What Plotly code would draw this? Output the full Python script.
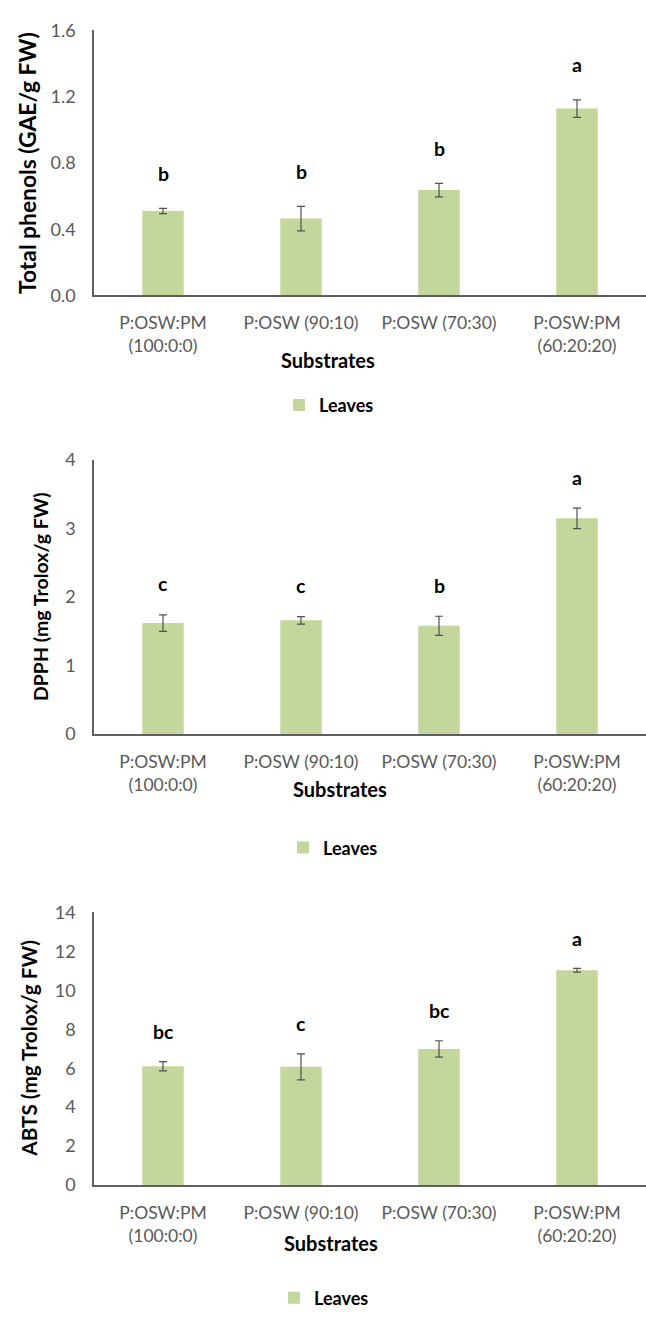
import plotly.graph_objects as go

# ---------------- data ----------------
categories = ["P:OSW:PM<br>(100:0:0)", "P:OSW (90:10)", "P:OSW (70:30)", "P:OSW:PM<br>(60:20:20)"]

phenols = [0.51, 0.464, 0.636, 1.128]
phenols_err = [0.016, 0.074, 0.041, 0.053]
phenols_letters = ["b", "b", "b", "a"]

dpph = [1.62, 1.66, 1.58, 3.15]
dpph_err = [0.12, 0.055, 0.14, 0.15]
dpph_letters = ["c", "c", "b", "a"]

abts = [6.10, 6.07, 6.99, 11.03]
abts_err = [0.24, 0.67, 0.42, 0.10]
abts_letters = ["bc", "c", "bc", "a"]

y_titles = ["Total phenols (GAE/g FW)", "DPPH (mg Trolox/g FW)", "ABTS (mg Trolox/g FW)"]
x_title = "Substrates"
series_name = "Leaves"

# ---------------- style / layout ----------------
W, H = 646, 1317
FONT = "Lato"
BAR_COLOR = "#C3D69B"
AXIS_COLOR = "#5f5f5f"
TICK_COLOR = "#595959"

# pixel geometry of each panel: (top px, bottom px)
panels = [(18.7, 288.3), (455.7, 734.3), (915.7, 1193.0)]
x_left_px = 94
ranges = [(0, 1.6, 0.4, ".1f"), (0, 4, 1, "d"), (0, 14, 2, "d")]
ytitle_x_px = [27, 40, 29]
ytitle_size = [22.8, 19.5, 20.7]
letter_shift = [35, 31, 30]
xtitle_px = [(328, 354), (340, 790), (331, 1252)]
legend_px = [(279, 400), (283, 850), (274, 1308)]

datasets = [
    (phenols, phenols_err, phenols_letters),
    (dpph, dpph_err, dpph_letters),
    (abts, abts_err, abts_letters),
]

fig = go.Figure()
annotations = []
layout_axes = {}

for i, ((vals, errs, letters), (top, bot), rng) in enumerate(zip(datasets, panels, ranges)):
    n = "" if i == 0 else str(i + 1)
    xa, ya = "x" + n, "y" + n
    leg = "legend" + n
    fig.add_trace(go.Bar(
        x=categories, y=vals, name=series_name,
        xaxis=xa, yaxis=ya, legend=leg,
        width=0.3,
        marker=dict(color=BAR_COLOR, line=dict(width=0)),
        error_y=dict(type="data", array=errs, visible=True,
                     color="#505050", thickness=1.2, width=4),
        showlegend=True,
    ))
    ydom = [1 - bot / H, 1 - top / H]
    layout_axes["xaxis" + n] = dict(
        domain=[x_left_px / W, 1.0], anchor=ya,
        type="category", range=[-0.5, 3.5],
        showline=True, linecolor=AXIS_COLOR, linewidth=1.5,
        showgrid=False, zeroline=False, ticks="",
        ticklabelstandoff=11,
        tickfont=dict(family=FONT, size=17.5, color=TICK_COLOR),
        fixedrange=True,
    )
    layout_axes["yaxis" + n] = dict(
        domain=ydom, anchor=xa,
        range=[rng[0], rng[1]], dtick=rng[2], tick0=0, tickformat=rng[3],
        showline=True, linecolor=AXIS_COLOR, linewidth=1.5,
        showgrid=False, zeroline=False, ticks="",
        ticklabelstandoff=13,
        tickfont=dict(family=FONT, size=18, color=TICK_COLOR),
        fixedrange=True,
    )
    # significance letters
    for c, v, e, t in zip(categories, vals, errs, letters):
        annotations.append(dict(
            x=c, y=v + e, xref=xa, yref=ya, text="<b>%s</b>" % t,
            showarrow=False, yanchor="middle", yshift=letter_shift[i],
            font=dict(family=FONT, size=19.5, color="#000000"),
        ))
    # y axis title
    annotations.append(dict(
        x=ytitle_x_px[i] / W, y=(ydom[0] + ydom[1]) / 2, xref="paper", yref="paper",
        text="<b>%s</b>" % y_titles[i], textangle=-90, showarrow=False,
        xanchor="center", yanchor="middle",
        font=dict(family=FONT, size=ytitle_size[i], color="#000000"),
    ))
    # x axis title
    annotations.append(dict(
        x=xtitle_px[i][0] / W, y=1 - xtitle_px[i][1] / H, xref="paper", yref="paper",
        text="<b>%s</b>" % x_title, showarrow=False,
        xanchor="center", yanchor="middle",
        font=dict(family=FONT, size=20, color="#000000"),
    ))
    layout_axes[leg] = dict(
        x=legend_px[i][0] / W, y=1 - legend_px[i][1] / H,
        xanchor="left", yanchor="middle", orientation="h",
        bgcolor="rgba(0,0,0,0)", borderwidth=0,
        font=dict(family=FONT, size=18, color="#000000", weight="bold"),
        itemclick=False, itemdoubleclick=False,
    )

fig.update_layout(
    width=W, height=H,
    margin=dict(l=0, r=0, t=0, b=0),
    paper_bgcolor="white", plot_bgcolor="white",
    annotations=annotations,
    **layout_axes,
)

fig.write_html(
    "out.html",
    config={"displayModeBar": False},
    post_script="document.body.style.margin='0';document.body.style.overflow='hidden';",
)
